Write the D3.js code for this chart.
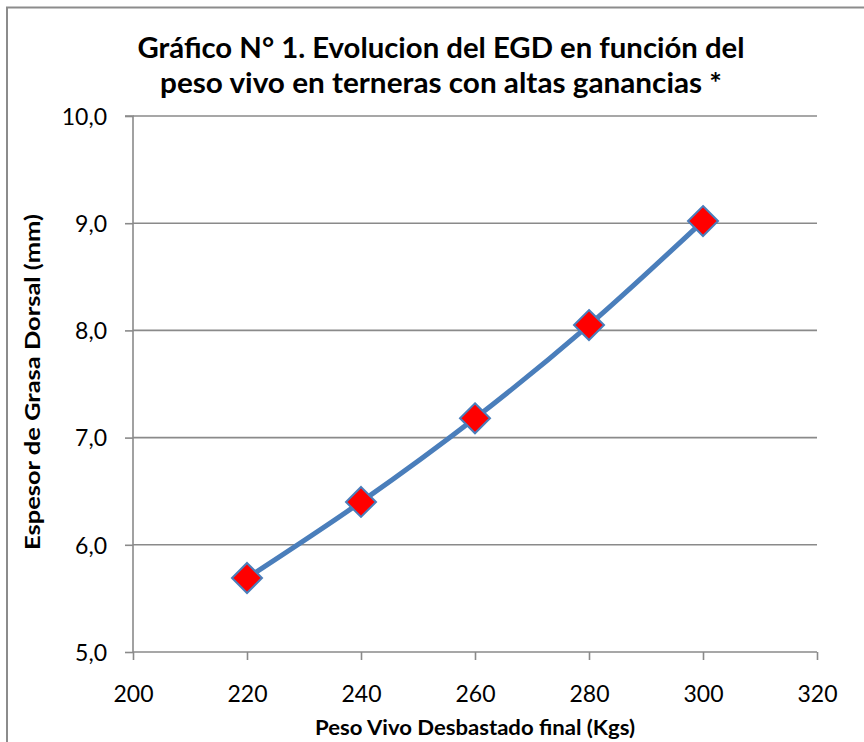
<!DOCTYPE html>
<html><head><meta charset="utf-8">
<script src="https://cdn.jsdelivr.net/npm/d3@7"></script>
<style>body{margin:0;background:#fff}svg{display:block}</style>
</head><body>
<svg id="c" width="864" height="742"></svg>
<script>
const pesoVivo = [220, 240, 260, 280, 300];
const egd = [5.69, 6.40, 7.18, 8.05, 9.02];
const xTicks = [200, 220, 240, 260, 280, 300, 320];
const yTicks = [5, 6, 7, 8, 9, 10];
const titleLines = ["Gráfico N° 1. Evolucion del EGD en función del", "peso vivo en terneras con altas ganancias *"];
const xLabel = "Peso Vivo Desbastado final (Kgs)";
const yLabel = "Espesor de Grasa Dorsal (mm)";

const svg = d3.select("#c");
const font = "Lato, 'Open Sans', sans-serif";
const m = {l:133, r:817, t:116, b:652};
const x = d3.scaleLinear().domain([200,320]).range([m.l, m.r]);
const y = d3.scaleLinear().domain([5,10]).range([m.b, m.t]);

// frame
svg.append("path").attr("d","M7,760 L7,7.5 L870,7.5").attr("fill","none").attr("stroke","#8c8c8c").attr("stroke-width",2);

// gridlines
svg.append("g").selectAll("line").data(yTicks.slice(1)).join("line")
  .attr("x1",m.l).attr("x2",m.r).attr("y1",d=>y(d)).attr("y2",d=>y(d))
  .attr("stroke","#8a8a8a").attr("stroke-width",1.6);

// y axis
const ya = svg.append("g").attr("transform",`translate(${m.l},0)`)
  .call(d3.axisLeft(y).tickValues(yTicks).tickSize(8).tickPadding(18)
    .tickFormat(d=>d3.format(".1f")(d).replace(".",",")));
ya.select(".domain").attr("stroke","#8a8a8a").attr("stroke-width",1.6).attr("d",`M-8,${m.t}H0V${m.b}`);
ya.selectAll(".tick line").attr("stroke","#8a8a8a").attr("stroke-width",1.6);
ya.selectAll("text").attr("font-family",font).attr("font-size",23).attr("fill","#000").attr("dy","0.36em");

// x axis
const xa = svg.append("g").attr("transform",`translate(0,${m.b})`)
  .call(d3.axisBottom(x).tickValues(xTicks).tickSize(8).tickPadding(26).tickFormat(d3.format("d")));
xa.select(".domain").attr("stroke","#8a8a8a").attr("stroke-width",1.6).attr("d",`M${m.l},0H${m.r}`);
xa.selectAll(".tick line").attr("stroke","#8a8a8a").attr("stroke-width",1.6);
xa.selectAll("text").attr("font-family",font).attr("font-size",23).attr("fill","#000");

// line
const pts = pesoVivo.map((v,i)=>[v, egd[i]]);
svg.append("path").datum(pts)
  .attr("d", d3.line().x(d=>x(d[0])).y(d=>y(d[1])).curve(d3.curveCatmullRom.alpha(0.5)))
  .attr("fill","none").attr("stroke","#4a7ebb").attr("stroke-width",5).attr("stroke-linecap","round");

// markers
svg.append("g").selectAll("path").data(pts).join("path")
  .attr("transform",d=>`translate(${x(d[0])},${y(d[1])})`)
  .attr("d","M0,-15L15,0L0,15L-15,0Z")
  .attr("fill","#ff0000").attr("stroke","#4a7ebb").attr("stroke-width",2);

// title
svg.append("g").selectAll("text").data(titleLines).join("text")
  .attr("x",441).attr("y",(d,i)=>58+i*35).attr("text-anchor","middle")
  .attr("font-family",font).attr("font-weight","bold").attr("font-size",28)
  .attr("textLength",(d,i)=>i===0?607:562).attr("lengthAdjust","spacingAndGlyphs")
  .text(d=>d);

// axis titles
svg.append("text").attr("x",475).attr("y",735).attr("text-anchor","middle")
  .attr("font-family",font).attr("font-weight","bold").attr("font-size",21)
  .attr("textLength",320).attr("lengthAdjust","spacingAndGlyphs").text(xLabel);
svg.append("text").attr("transform","translate(40,382) rotate(-90)").attr("text-anchor","middle")
  .attr("font-family",font).attr("font-weight","bold").attr("font-size",21)
  .attr("textLength",336).attr("lengthAdjust","spacingAndGlyphs").text(yLabel);
</script>
</body></html>
